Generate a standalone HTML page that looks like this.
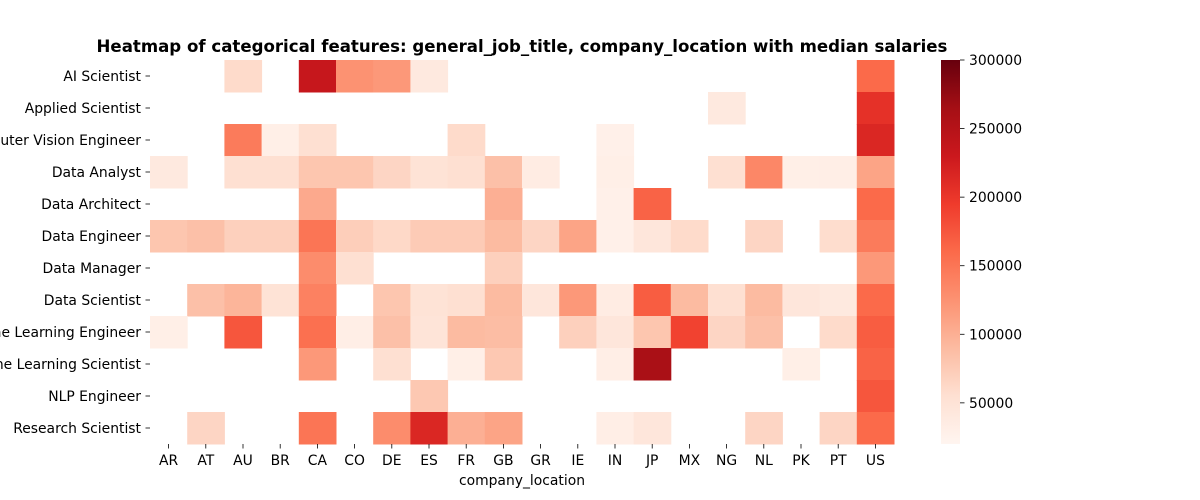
<!DOCTYPE html>
<html><head><meta charset="utf-8"><style>
body{margin:0;background:#fff;}
svg{display:block;font-family:"DejaVu Sans","Liberation Sans",sans-serif;}
</style></head><body>
<svg id="chart" width="1200" height="500">
<defs><linearGradient id="cbgrad" x1="0" y1="1" x2="0" y2="0">
<stop offset="0" stop-color="#fff5f0"/><stop offset="0.125" stop-color="#fee0d2"/><stop offset="0.25" stop-color="#fcbba1"/><stop offset="0.375" stop-color="#fc9272"/><stop offset="0.5" stop-color="#fb6a4a"/><stop offset="0.625" stop-color="#ef3b2c"/><stop offset="0.75" stop-color="#cb181d"/><stop offset="0.875" stop-color="#a50f15"/><stop offset="1" stop-color="#67000d"/>
</linearGradient></defs>
<text x="522" y="52" text-anchor="middle" font-size="16.6" font-weight="bold">Heatmap of categorical features: general_job_title, company_location with median salaries</text>
<g id="cells"></g><g id="yaxis"></g><g id="xaxis"></g>
<text x="522" y="485" text-anchor="middle" font-size="13.9">company_location</text>
<rect x="941" y="60" width="19" height="384" fill="url(#cbgrad)"/>
<g id="cbticks"></g>
</svg>
<script>
const locations = ["AR","AT","AU","BR","CA","CO","DE","ES","FR","GB","GR","IE","IN","JP","MX","NG","NL","PK","PT","US"];
const jobTitles = ["AI Scientist","Applied Scientist","Computer Vision Engineer","Data Analyst","Data Architect","Data Engineer","Data Manager","Data Scientist","Machine Learning Engineer","Machine Learning Scientist","NLP Engineer","Research Scientist"];
const salaries = [
 [null,null,60000,null,235000,125000,120000,40000,null,null,null,null,null,null,null,null,null,null,null,160000],
 [null,null,null,null,null,null,null,null,null,null,null,null,null,null,null,40000,null,null,null,205000],
 [null,null,145000,30000,55000,null,null,null,60000,null,null,null,28000,null,null,null,null,null,null,215000],
 [40000,null,55000,55000,80000,80000,65000,50000,55000,85000,35000,null,30000,null,null,55000,135000,30000,32000,110000],
 [null,null,null,null,105000,null,null,null,null,100000,null,null,28000,165000,null,null,null,null,null,160000],
 [80000,85000,70000,70000,150000,72000,62000,75000,75000,90000,65000,110000,28000,45000,60000,null,65000,null,58000,145000],
 [null,null,null,null,130000,55000,null,null,null,70000,null,null,null,null,null,null,null,null,null,120000],
 [null,85000,95000,50000,140000,null,80000,50000,55000,90000,45000,120000,35000,170000,90000,55000,90000,45000,40000,160000],
 [30000,null,175000,null,155000,32000,85000,48000,90000,88000,null,70000,45000,80000,190000,65000,85000,null,60000,170000],
 [null,null,null,null,120000,null,55000,null,30000,78000,null,null,32000,260000,null,null,null,30000,null,165000],
 [null,null,null,null,null,null,null,78000,null,null,null,null,null,null,null,null,null,null,null,175000],
 [null,65000,null,null,150000,null,130000,215000,100000,110000,null,null,32000,45000,null,null,65000,null,65000,160000]
];
const cbTicks = [50000,100000,150000,200000,250000,300000];
const vmin = 20000, vmax = 300000;
const X0=150, X1=894, Y0=60, Y1=444;
const cw=(X1-X0)/locations.length, ch=(Y1-Y0)/jobTitles.length;
const xPos=i=>X0+i*cw, yPos=j=>Y0+j*ch;
const cbY=v=>Y1-(v-vmin)/(vmax-vmin)*(Y1-Y0);
const stops=["#fff5f0","#fee0d2","#fcbba1","#fc9272","#fb6a4a","#ef3b2c","#cb181d","#a50f15","#67000d"].map(h=>[1,3,5].map(k=>parseInt(h.substr(k,2),16)));
function color(v){let t=Math.max(0,Math.min(1,(v-vmin)/(vmax-vmin)))*(stops.length-1);let i=Math.min(Math.floor(t),stops.length-2),f=t-i;
const c=stops[i].map((a,k)=>Math.round(a+(stops[i+1][k]-a)*f));return `rgb(${c})`;}
const NS="http://www.w3.org/2000/svg";
function mk(tag,attrs,parent,text){const e=document.createElementNS(NS,tag);for(const k in attrs)e.setAttribute(k,attrs[k]);if(text!=null)e.textContent=text;parent.appendChild(e);return e;}
const cells=document.getElementById('cells'),ya=document.getElementById('yaxis'),xa=document.getElementById('xaxis'),cb=document.getElementById('cbticks');
salaries.forEach((row,j)=>row.forEach((v,i)=>{if(v==null)return;
 const r=mk('rect',{x:xPos(i),y:yPos(j),width:cw+0.5,height:ch+0.5,fill:color(v)},cells);
 
 
}));
jobTitles.forEach((t,j)=>{const y=yPos(j)+ch/2;
 mk('line',{x1:X0-4.5,x2:X0,y1:y,y2:y,stroke:'#000','stroke-width':0.8},ya);
 const e=mk('text',{x:X0-9,y:y+5,'text-anchor':'end','font-size':13.9},ya,t);
 
 
});
locations.forEach((t,i)=>{const x=xPos(i)+cw/2;
 mk('line',{x1:x,x2:x,y1:Y1,y2:Y1+4.5,stroke:'#000','stroke-width':0.8},xa);
 const e=mk('text',{x:x,y:Y1+21,'text-anchor':'middle','font-size':13.9},xa,t);
 
 
});
cbTicks.forEach(v=>{const y=cbY(v);
 mk('line',{x1:960,x2:964.5,y1:y,y2:y,stroke:'#000','stroke-width':0.8},cb);
 const e=mk('text',{x:969,y:y+5,'font-size':13.9},cb,String(v));
 
 
});
</script>
</body></html>
